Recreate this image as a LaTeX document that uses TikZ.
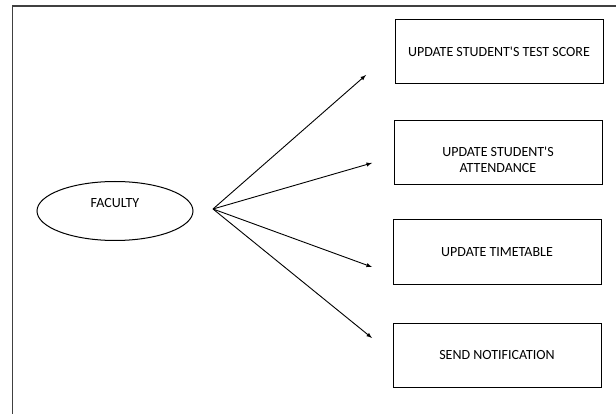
\documentclass[tikz,border=0pt]{standalone}
\usepackage{fontspec}
\setmainfont{Carlito}[Ligatures=TeXOff]
\usetikzlibrary{positioning, shapes.geometric}

\tikzset{
  task/.style={draw, line width=1pt, minimum width=208pt, minimum height=64pt, align=center},
  actor/.style={draw, ellipse, line width=1pt, minimum width=156pt, minimum height=59pt}
}

\begin{document}
\begin{tikzpicture}[>=latex, x=1pt, y=-1pt, font=\fontsize{14}{16}\selectfont]
  \useasboundingbox (0,0) rectangle (616,414);
  \draw [line width=1.2pt, black!75] (12.5,414) -- (12.5,6) -- (616,6);
  \node [actor] (faculty) at (115,211) {\raisebox{3pt}[0pt][0pt]{FACULTY}};
  \node [task] (score) at (499,52) {UPDATE STUDENT'S TEST SCORE};
  \node [task] (attend) at (498,153)
    {\raisebox{-20pt}[0pt][0pt]{\begin{tabular}[b]{@{}c@{}}UPDATE STUDENT'S\\ ATTENDANCE\end{tabular}}};
  \node [task] (timetable) at (497,252) {UPDATE TIMETABLE};
  \node [task] (notify) at (497,355) {SEND NOTIFICATION};
  \coordinate (fan) at (213,209);
  \coordinate (tip1) at (366,75);
  \coordinate (tip2) at (372,163);
  \coordinate (tip3) at (372,267);
  \coordinate (tip4) at (372,338);
  \draw [->, line width=0.9pt] (fan) -- (tip1);
  \draw [->, line width=0.9pt] (fan) -- (tip2);
  \draw [->, line width=0.9pt] (fan) -- (tip3);
  \draw [->, line width=0.9pt] (fan) -- (tip4);
\end{tikzpicture}
\end{document}
